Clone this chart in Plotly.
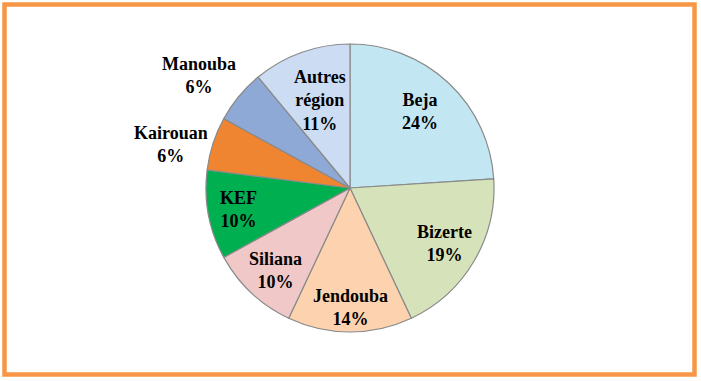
import math
import plotly.graph_objects as go

regions = ["Beja", "Bizerte", "Jendouba", "Siliana", "KEF", "Kairouan", "Manouba", "Autres<br>région"]
shares = [24, 19, 14, 10, 10, 6, 6, 11]
colors = ["#C3E7F2", "#D6E3BA", "#FCD3AE", "#F0C8C8", "#00B050", "#EF8530", "#8FA9D6", "#CCDCF3"]
label_radius = [0.72, 0.76, 0.83, 0.77, 0.79, 1.28, 1.31, 0.64]
label_shift_deg = [-1, 0, 0, -1, 0, -4.5, -3, 1]

W, H = 701, 381
L, R, T, B = 206, 207, 44, 49
PW, PH = W - L - R, H - T - B
cx, cy = L + PW / 2, T + PH / 2
rad = PW / 2

def px2paper(x, y):
    return (x - L) / PW, 1 - (y - T) / PH

fig = go.Figure(go.Pie(
    labels=[r.replace("<br>", " ") for r in regions],
    values=shares,
    sort=False,
    direction="clockwise",
    rotation=0,
    textinfo="none",
    hoverinfo="label+percent",
    marker=dict(colors=colors, line=dict(color="#8A8A8A", width=1.2)),
    showlegend=False,
))

annotations = []
total = sum(shares)
cum = 0
for name, v, rf, sh in zip(regions, shares, label_radius, label_shift_deg):
    mid = (cum + v / 2) / total * 2 * math.pi + math.radians(sh)
    cum += v
    x = cx + rf * rad * math.sin(mid)
    y = cy - rf * rad * math.cos(mid)
    px, py = px2paper(x, y)
    annotations.append(dict(
        x=px, y=py, xref="paper", yref="paper",
        text=f"<b>{name}<br>{v}%</b>", showarrow=False,
        font=dict(family="Liberation Serif", size=18, color="#000000"),
        xanchor="center", yanchor="middle", align="center",
    ))

x0, y0 = px2paper(4.5, 4.5)
x1, y1 = px2paper(694.5, 374.5)
fig.update_layout(
    width=W, height=H,
    margin=dict(l=L, r=R, t=T, b=B),
    paper_bgcolor="white", plot_bgcolor="white",
    annotations=annotations,
    shapes=[dict(type="rect", xref="paper", yref="paper", x0=x0, y0=y0, x1=x1, y1=y1,
                 line=dict(color="#F79646", width=4.5), fillcolor="rgba(0,0,0,0)")],
    font=dict(family="Liberation Serif"),
)
fig.write_html("out.html", config={"displayModeBar": False},
               post_script="document.body.style.margin='0';document.body.style.overflow='hidden';")
